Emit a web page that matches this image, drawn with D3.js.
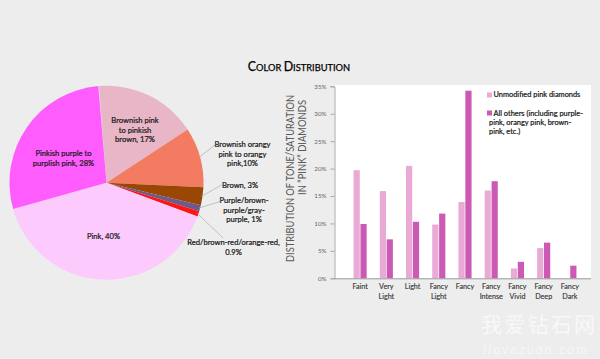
<!DOCTYPE html>
<html><head><meta charset="utf-8">
<script src="https://cdn.jsdelivr.net/npm/d3@7"></script>
<style>
html,body{margin:0;padding:0;background:#ededed;}
svg{display:block;font-family:Lato,"Open Sans",sans-serif;}
</style></head>
<body><svg id="c" width="600" height="359"></svg>
<script>
// ---- data ----
const pieNames = ["Brownish pink to pinkish brown","Brownish orangy pink to orangy pink","Brown","Purple/brown-purple/gray-purple","Red/brown-red/orange-red","Pink","Pinkish purple to purplish pink"];
const pieValues = [17, 10, 3, 1, 0.9, 40, 28];
const pieLabelLines = [
  ["Brownish pink","to pinkish","brown, 17%"],
  ["Brownish orangy","pink to orangy","pink,10%"],
  ["Brown, 3%"],
  ["Purple/brown-","purple/gray-","purple, 1%"],
  ["Red/brown-red/orange-red,","0.9%"],
  ["Pink, 40%"],
  ["Pinkish purple to","purplish pink, 28%"]
];
const categories = ["Faint","Very Light","Light","Fancy Light","Fancy","Fancy Intense","Fancy Vivid","Fancy Deep","Fancy Dark"];
const unmodified = [19.7, 15.9, 20.5, 9.8, 13.9, 16.0, 1.8, 5.5, 0];
const allOthers  = [9.9, 7.1, 10.3, 11.8, 34.2, 17.7, 3.0, 6.5, 2.3];
const seriesNames = ["Unmodified pink diamonds","All others (including purple-pink, orangy pink, brown-pink, etc.)"];
const yTicks = [0,5,10,15,20,25,30,35];

// ---- styles / layout ----
const pieColors = ["#e8b6c7","#f27b62","#9a4706","#6d5a8a","#ff1414","#fccafc","#ff5cfd"];
const barColors = ["#e9aad5","#cc5ab5"];
const labelPos = [ // [x, y of first baseline, leader end or null]
  [135,123,null],[242.5,147,[215,145]],[240,188,[221.5,185]],[244,203,[220,201.5]],[233.5,245,[223,238]],[103.5,238.5,null],[63.5,156,null]
];

const svg = d3.select("#c");
const font = "Lato, 'Open Sans', sans-serif";
const bold = sel => sel.attr("stroke","#1a1a1a").attr("stroke-width",0.22);

// ---- title ----
const t = svg.append("text").attr("x",299).attr("y",70.5).attr("text-anchor","middle")
  .attr("fill","#000").style("font-family",font)
  .attr("stroke","#000").attr("stroke-width",0.25);
[["C",12.4],["OLOR ",9.3],["D",12.4],["ISTRIBUTION",9.3]].forEach(([s,fs])=>t.append("tspan").attr("font-size",fs).text(s));

// ---- pie ----
const cx=106.5, cy=182.7, R=97;
const start=-4.5*Math.PI/180;
const total=d3.sum(pieValues);
const pie=d3.pie().sort(null).value(d=>d).startAngle(start).endAngle(start+2*Math.PI*total/100);
const arcs=pie(pieValues);
const arc=d3.arc().innerRadius(0).outerRadius(R);
const gp=svg.append("g").attr("transform",`translate(${cx},${cy})`);
gp.selectAll("path").data(arcs).join("path").attr("d",arc).attr("fill",(d,i)=>pieColors[i]);

arcs.forEach((a,i)=>{
  const [lx,ly,end]=labelPos[i];
  if(end){
    const m=(a.startAngle+a.endAngle)/2;
    const sx=cx+(R-1)*Math.sin(m), sy=cy-(R-1)*Math.cos(m);
    svg.append("line").attr("x1",sx).attr("y1",sy).attr("x2",end[0]).attr("y2",end[1])
      .attr("stroke","#b5b5b5").attr("stroke-width",0.8);
  }
  const tx=svg.append("text").attr("x",lx).attr("y",ly).attr("text-anchor","middle")
    .attr("font-size",7.6).attr("fill","#1a1a1a").style("font-family",font).call(bold);
  pieLabelLines[i].forEach((s,j)=>tx.append("tspan").attr("x",lx).attr("dy",j?9.6:0).text(s));
});

// ---- bar chart ----
const L=334.5, Rr=591, T=85, B=278.3;
svg.append("rect").attr("x",L).attr("y",T).attr("width",Rr-L).attr("height",B-T).attr("fill","#ffffff");
const y=d3.scaleLinear().domain([0,35]).range([B,86.3]);
const x0=d3.scaleBand().domain(categories).range([347,583]).paddingInner(0.5).paddingOuter(0.25);
const x1=d3.scaleBand().domain([0,1]).range([0,x0.bandwidth()]).paddingInner(0.1);

const series=[unmodified,allOthers];
series.forEach((vals,s)=>{
  svg.append("g").selectAll("rect").data(vals).join("rect")
    .attr("x",(d,i)=>x0(categories[i])+x1(s)).attr("width",x1.bandwidth())
    .attr("y",d=>y(d)).attr("height",d=>B-y(d)).attr("fill",barColors[s]);
});

// y axis
const ya=svg.append("g").attr("transform",`translate(${L},0)`)
  .call(d3.axisLeft(y).tickValues(yTicks).tickFormat(d=>d+"%").tickSize(4).tickPadding(4));
ya.select(".domain").attr("stroke","#a9a9a9");
ya.selectAll(".tick line").attr("stroke","#a9a9a9");
ya.selectAll(".tick text").attr("fill","#666").attr("font-size",6.2).style("font-family",font);

// x axis
const xa=svg.append("g").attr("transform",`translate(0,${B})`)
  .call(d3.axisBottom(x0).tickSize(0).tickPadding(0).tickFormat(""));
xa.select(".domain").attr("d",`M${L},0.5H${Rr}`).attr("stroke","#9a9a9a");
xa.selectAll(".tick").each(function(d){
  const parts=d.split(" ");
  const tt=d3.select(this).append("text").attr("fill","#333").attr("font-size",7.2)
    .style("font-family",font).attr("text-anchor","middle").attr("y",10.5)
    .attr("stroke","#333").attr("stroke-width",0.12);
  parts.forEach((p,j)=>tt.append("tspan").attr("x",0).attr("dy",j?10:0).text(p));
});

// y title
[["DISTRIBUTION OF TONE/SATURATION",290,95,167],["IN \u201CPINK\u201D DIAMONDS",302,100,95]].forEach(([s,xx,yy,len])=>{
  svg.append("text").attr("transform",`translate(${xx+4},${yy}) rotate(-90)`)
    .attr("text-anchor","end").attr("font-size",11).attr("fill","#5a5a5a")
    .attr("font-weight",400).style("font-family",font)
    .attr("textLength",len).attr("lengthAdjust","spacingAndGlyphs").text(s);
});

// legend
const lg=svg.append("g");
lg.append("rect").attr("x",487).attr("y",92.5).attr("width",5).attr("height",5).attr("fill",barColors[0]);
lg.append("text").attr("x",493.5).attr("y",97).attr("font-size",7.4).attr("fill","#1a1a1a").style("font-family",font).call(bold).text(seriesNames[0]);
lg.append("rect").attr("x",487).attr("y",110.5).attr("width",5).attr("height",5).attr("fill",barColors[1]);
const lt=lg.append("text").attr("x",493.5).attr("y",115.5).attr("font-size",7.4).attr("fill","#1a1a1a").style("font-family",font).call(bold);
["All others (including purple-","pink, orangy pink, brown-","pink, etc.)"].forEach((s,j)=>lt.append("tspan").attr("x",j?489:493.5).attr("dy",j?9.3:0).text(s));

// watermark
svg.append("text").attr("x",481).attr("y",332).attr("font-size",21).attr("fill","#f8f8f8")
  .style("font-family","'Noto Sans CJK SC'").attr("textLength",114).text("我爱钻石网");
svg.append("text").attr("x",483).attr("y",354).attr("font-size",13.5).attr("font-style","italic").attr("fill","#f6f6f6")
  .style("font-family",font).attr("textLength",104).text("ilovezuan.com");
</script></body></html>
